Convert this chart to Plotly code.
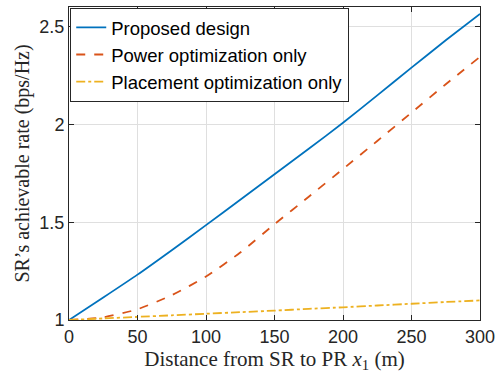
import plotly.graph_objects as go

distance = [0, 25, 50, 75, 100, 125, 150, 175, 200, 225, 250, 275, 300]
proposed = [1.0, 1.115, 1.232, 1.357, 1.485, 1.615, 1.745, 1.875, 2.008, 2.148, 2.29, 2.43, 2.565]
power_only = [1.0, 1.014, 1.055, 1.127, 1.222, 1.345, 1.49, 1.63, 1.772, 1.915, 2.06, 2.205, 2.345]
placement_only = [1.0, 1.008, 1.016, 1.024, 1.032, 1.04, 1.048, 1.057, 1.065, 1.074, 1.083, 1.092, 1.10]

x_ticks = [0, 50, 100, 150, 200, 250, 300]
y_ticks = [1, 1.5, 2, 2.5]
y_tick_text = ["1", "1.5", "2", "2.5"]

fig = go.Figure()
fig.add_trace(go.Scatter(x=distance, y=proposed, mode="lines", name="Proposed design",
                         line=dict(color="#0072BD", width=1.8, shape="spline", smoothing=0.6)))
fig.add_trace(go.Scatter(x=distance, y=power_only, mode="lines", name="Power optimization only",
                         line=dict(color="#D95319", width=1.8, dash="dash", shape="spline", smoothing=0.6)))
fig.add_trace(go.Scatter(x=distance, y=placement_only, mode="lines", name="Placement optimization only",
                         line=dict(color="#EDB120", width=1.8, dash="dashdot", shape="spline", smoothing=0.6)))

axis_common = dict(showline=True, linecolor="#262626", linewidth=1, mirror="ticks",
                   ticks="inside", ticklen=5, tickcolor="#262626",
                   showgrid=True, gridcolor="#DFDFDF", gridwidth=1, zeroline=False,
                   automargin=False,
                   tickfont=dict(family="Liberation Sans, Arial", size=18, color="#262626"))

fig.update_xaxes(range=[0, 300], tickvals=x_ticks,
                 title=dict(text="Distance from SR to PR <i>x</i><sub>1</sub> (m)",
                            font=dict(family="Liberation Serif, serif", size=21, color="#262626"),
                            standoff=0),
                 **axis_common)
fig.update_yaxes(range=[1, 2.6], tickvals=y_ticks, ticktext=y_tick_text,
                 title=dict(text="SR’s achievable rate (bps/Hz)",
                            font=dict(family="Liberation Serif, serif", size=20, color="#262626"),
                            standoff=4),
                 **axis_common)

fig.update_layout(
    width=496, height=373,
    margin=dict(l=69, r=16, t=7, b=53),
    paper_bgcolor="white", plot_bgcolor="white",
    showlegend=True,
    legend=dict(x=0.003, y=0.997, xanchor="left", yanchor="top",
                bgcolor="white", bordercolor="#262626", borderwidth=1,
                font=dict(family="Liberation Sans, Arial", size=18.5, color="#000000"),
                tracegroupgap=0, itemwidth=30),
)

fig.write_html("out.html")
